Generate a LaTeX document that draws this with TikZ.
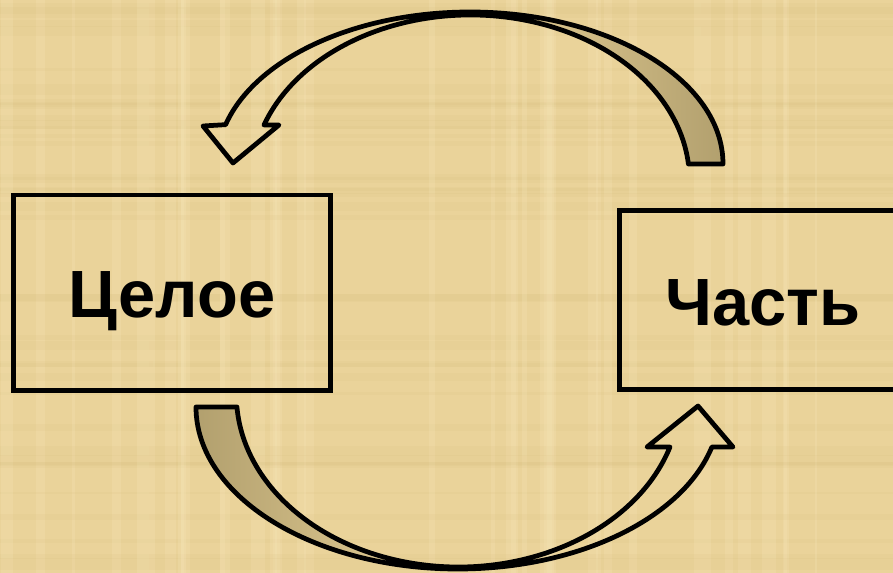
\documentclass[tikz,border=0pt]{standalone}
\usepackage{fontspec}
\setmainfont{Liberation Sans}
\definecolor{parchment}{RGB}{234,211,154}
\definecolor{fiberlight}{RGB}{246,230,184}
\definecolor{fiberdark}{RGB}{214,188,124}
\definecolor{backside}{RGB}{178,160,110}
\begin{document}
\begin{tikzpicture}[x=0.01cm, y=-0.01cm,
        box/.style={draw, line width=1.35pt, text height=0.5cm, text depth=0pt,
            font=\bfseries\fontsize{19}{23}\selectfont},
        bandarrow/.style={draw, line width=1.35pt, line join=round}]
    \clip (0,0) rectangle (893,573);
    % parchment
    \fill[parchment] (0,0) rectangle (893,573);
    \pgfmathsetseed{11}
    \foreach \i in {1,...,40} {
        \pgfmathsetmacro\px{rnd*893}
        \pgfmathsetmacro\wd{2+rnd*12}
        \fill[fiberlight, opacity=0.25] (\px,0) rectangle ++(\wd,573);
        \pgfmathsetmacro\py{rnd*573}
        \pgfmathsetmacro\ht{2+rnd*10}
        \fill[fiberdark, opacity=0.12] (0,\py) rectangle ++(893,\ht);
    }
    % boxes
    \node[box, minimum width=3.165cm, minimum height=1.955cm] (whole) at (172,292.8) {Целое};
    \node[box, minimum width=2.87cm, minimum height=1.79cm] (part) at (763,300) {Часть};
    % back sides of the arrows
    \shade[left color=parchment, right color=backside] (723,164)
        arc[start angle=0, end angle=-90, x radius=253, y radius=152]
        -- (470.5,15) arc[start angle=-90, end angle=-5.57, x radius=219, y radius=165] -- cycle;
    \shade[left color=backside, right color=parchment] (196,407)
        arc[start angle=180, end angle=90, x radius=262, y radius=162]
        -- (458.4,567) arc[start angle=90, end angle=176, x radius=222, y radius=172] -- cycle;
    % part -> whole
    \draw[bandarrow] (723,164) arc[start angle=0, end angle=-165, x radius=253, y radius=152]
        -- (203,126) -- (233,163) -- (279,125) -- (264,125)
        arc[start angle=-160.53, end angle=-5.57, x radius=219, y radius=165] -- cycle;
    % whole -> part
    \draw[bandarrow] (196,407) arc[start angle=180, end angle=14.3, x radius=262, y radius=162]
        -- (733,447) -- (698,406) -- (647,447) -- (670,447)
        arc[start angle=17.6, end angle=176, x radius=222, y radius=172] -- cycle;
\end{tikzpicture}
\end{document}
